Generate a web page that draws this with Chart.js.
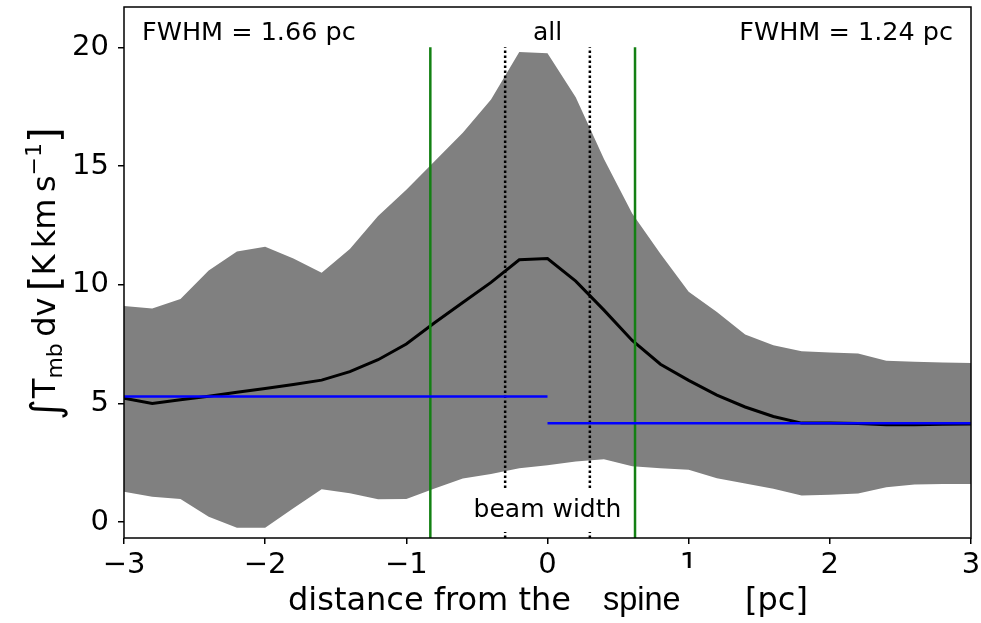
<!DOCTYPE html>
<html>
<head>
<meta charset="utf-8">
<title>Integrated intensity profile across the spine</title>
<script src="https://cdn.jsdelivr.net/npm/chart.js@4.4.1/dist/chart.umd.min.js"></script>
<style>
  html, body { margin: 0; padding: 0; background: #ffffff; }
  #wrap { width: 981px; height: 623px; position: relative; }
</style>
</head>
<body>
<div id="wrap"><canvas id="profile" width="981" height="623"></canvas></div>
<script>
// Radial profile sampled every 0.2 pc on either side of the spine
const distance = [-3.0, -2.8, -2.6, -2.4, -2.2, -2.0, -1.8, -1.6, -1.4, -1.2, -1.0,
                  -0.8, -0.6, -0.4, -0.2, 0.0, 0.2, 0.4, 0.6, 0.8, 1.0,
                  1.2, 1.4, 1.6, 1.8, 2.0, 2.2, 2.4, 2.6, 2.8, 3.0];
const meanIntensity = [5.22, 5.00, 5.15, 5.30, 5.47, 5.63, 5.80, 5.98, 6.34, 6.84, 7.50,
                       8.40, 9.25, 10.10, 11.05, 11.10, 10.15, 8.93, 7.65, 6.65, 5.97,
                       5.35, 4.85, 4.45, 4.17, 4.17, 4.15, 4.10, 4.10, 4.12, 4.13];
const upperBound = [9.10, 9.00, 9.40, 10.60, 11.40, 11.60, 11.10, 10.50, 11.50, 12.90, 14.00,
                    15.20, 16.40, 17.80, 19.80, 19.75, 17.90, 15.30, 13.00, 11.30, 9.70,
                    8.85, 7.90, 7.45, 7.20, 7.15, 7.10, 6.80, 6.75, 6.72, 6.70];
const lowerBound = [1.28, 1.07, 0.97, 0.22, -0.24, -0.24, 0.58, 1.38, 1.21, 0.96, 0.97,
                    1.42, 1.84, 2.03, 2.27, 2.40, 2.55, 2.65, 2.35, 2.27, 2.20,
                    1.85, 1.63, 1.40, 1.12, 1.15, 1.20, 1.47, 1.58, 1.60, 1.60];

// Background levels on each side of the spine
const leftLevel = 5.29;
const rightLevel = 4.16;

// Half-widths (FWHM / 2) and beam half-width, in pc
const fwhmLeftEdge = -0.83;
const fwhmRightEdge = 0.62;
const beamEdges = [-0.3, 0.3];
const markerTop = 20;

// Axis limits and tick labels
const xRange = [-3, 3];
const yRange = [-0.67, 21.7];
const xTicks = [-3, -2, -1, 0, 1, 2, 3];
const yTicks = [0, 5, 10, 15, 20];

const MAIN_FONT = 'DejaVu Sans';

function toPoints(xs, ys) {
  return xs.map((x, i) => ({ x: x, y: ys[i] }));
}
function vertical(x, y0, y1) {
  return [{ x: x, y: y0 }, { x: x, y: y1 }];
}
function formatTick(v) {
  return v < 0 ? '\u2212' + Math.abs(v) : String(v);
}

// Draws a sequence of text runs (with sub/superscripts) one after another
function drawRuns(ctx, runs) {
  let u = 0;
  for (const r of runs) {
    ctx.font = r.font;
    ctx.fillText(r.text, u, r.shift || 0);
    u += ctx.measureText(r.text).width + (r.gap || 0);
  }
}

const decorations = {
  id: 'decorations',
  afterDatasetsDraw(chart) {
    const ctx = chart.ctx;
    const a = chart.chartArea;
    const xs = chart.scales.x;
    ctx.save();
    ctx.fillStyle = '#000';
    ctx.textBaseline = 'alphabetic';

    // corner annotations
    ctx.font = '25.5px "' + MAIN_FONT + '"';
    ctx.textAlign = 'left';
    ctx.fillText('FWHM = 1.66 pc', a.left + 18, a.top + 33);
    ctx.textAlign = 'right';
    ctx.fillText('FWHM = 1.24 pc', a.right - 18, a.top + 33);
    ctx.textAlign = 'center';
    ctx.font = '25px "' + MAIN_FONT + '"';
    ctx.fillText('all', xs.getPixelForValue(0), a.top + 33);

    // beam width label on a white box
    const cx = xs.getPixelForValue(0);
    ctx.fillStyle = '#ffffff';
    ctx.fillRect(cx - 80, a.bottom - 50, 160, 44);
    ctx.fillStyle = '#000';
    ctx.fillText('beam width', cx, a.bottom - 21);

    // frame around the plotting area
    ctx.strokeStyle = '#000';
    ctx.lineWidth = 1.5;
    ctx.strokeRect(a.left, a.top, a.right - a.left, a.bottom - a.top);
    ctx.restore();
  },
  afterDraw(chart) {
    const ctx = chart.ctx;
    ctx.save();
    ctx.fillStyle = '#000';
    ctx.textBaseline = 'alphabetic';
    ctx.textAlign = 'left';

    // x-axis title; the middle word sits on its own white box
    ctx.font = '32px "' + MAIN_FONT + '"';
    ctx.fillText('distance from the', 288, 610);
    ctx.fillStyle = '#ffffff';
    ctx.fillRect(590, 568, 148, 55);
    ctx.fillStyle = '#000';
    ctx.font = '32.5px "Liberation Sans"';
    ctx.fillText('spine', 603, 610);
    ctx.font = '32px "' + MAIN_FONT + '"';
    ctx.fillText('[pc]', 745, 610);

    // y-axis title, rotated
    ctx.translate(55, 420);
    ctx.rotate(-Math.PI / 2);
    const f = (s) => s + 'px "' + MAIN_FONT + '"';
    drawRuns(ctx, [
      { text: '\u222B', font: f(40), shift: 4, gap: 1 },
      { text: 'T', font: f(32) },
      { text: 'mb', font: f(22), shift: 7 },
      { text: '\u2009dv\u2009', font: f(32) },
      { text: '[', font: f(40), shift: 3 },
      { text: 'K\u2009km\u2009s', font: f(32) },
      { text: '\u22121', font: f(22), shift: -14 },
      { text: ']', font: f(40), shift: 3 }
    ]);
    ctx.restore();
  }
};

const tickFont = { family: MAIN_FONT, size: 29 };

new Chart(document.getElementById('profile').getContext('2d'), {
  type: 'line',
  data: {
    datasets: [
      { label: 'upper', data: toPoints(distance, upperBound), fill: 1,
        backgroundColor: '#808080', borderColor: 'rgba(0,0,0,0)', borderWidth: 0,
        pointRadius: 0, order: 20 },
      { label: 'lower', data: toPoints(distance, lowerBound), fill: false,
        borderColor: 'rgba(0,0,0,0)', borderWidth: 0, pointRadius: 0, order: 21 },
      { label: 'mean', data: toPoints(distance, meanIntensity), fill: false,
        borderColor: '#000000', borderWidth: 3, pointRadius: 0, order: 6 },
      { label: 'FWHM left', data: vertical(fwhmLeftEdge, yRange[0], markerTop), fill: false,
        borderColor: '#138013', borderWidth: 2.5, pointRadius: 0, order: 5 },
      { label: 'FWHM right', data: vertical(fwhmRightEdge, yRange[0], markerTop), fill: false,
        borderColor: '#138013', borderWidth: 2.5, pointRadius: 0, order: 5 },
      { label: 'beam left', data: vertical(beamEdges[0], yRange[0], markerTop), fill: false,
        borderColor: '#000000', borderWidth: 2.5, borderDash: [2.5, 2.5], borderCapStyle: 'butt',
        pointRadius: 0, order: 4 },
      { label: 'beam right', data: vertical(beamEdges[1], yRange[0], markerTop), fill: false,
        borderColor: '#000000', borderWidth: 2.5, borderDash: [2.5, 2.5], borderCapStyle: 'butt',
        pointRadius: 0, order: 4 },
      { label: 'level left', data: [{ x: xRange[0], y: leftLevel }, { x: 0, y: leftLevel }], fill: false,
        borderColor: '#0000ff', borderWidth: 2.5, pointRadius: 0, order: 2 },
      { label: 'level right', data: [{ x: 0, y: rightLevel }, { x: xRange[1], y: rightLevel }], fill: false,
        borderColor: '#0000ff', borderWidth: 2.5, pointRadius: 0, order: 2 }
    ]
  },
  options: {
    responsive: false,
    animation: false,
    devicePixelRatio: 1,
    events: [],
    layout: { padding: { top: 7, right: 10, left: 0, bottom: 0 } },
    elements: { line: { tension: 0 } },
    plugins: { legend: { display: false }, tooltip: { enabled: false } },
    scales: {
      x: {
        type: 'linear', min: xRange[0], max: xRange[1],
        afterBuildTicks: (s) => { s.ticks = xTicks.map(v => ({ value: v })); },
        afterFit: (s) => { s.height = 85; s.paddingLeft = 0; s.paddingRight = 0; },
        ticks: { font: tickFont, color: '#000', padding: 4, maxRotation: 0, autoSkip: false,
                 callback: (v) => formatTick(v) },
        grid: { display: true, drawOnChartArea: false, drawTicks: true, tickLength: 6,
                color: '#000', lineWidth: 1.5 },
        border: { display: false }
      },
      y: {
        type: 'linear', min: yRange[0], max: yRange[1],
        afterBuildTicks: (s) => { s.ticks = yTicks.map(v => ({ value: v })); },
        afterFit: (s) => { s.width = 124; s.paddingTop = 0; s.paddingBottom = 0; },
        ticks: { font: tickFont, color: '#000', padding: 9, autoSkip: false,
                 callback: (v) => formatTick(v) },
        grid: { display: true, drawOnChartArea: false, drawTicks: true, tickLength: 6,
                color: '#000', lineWidth: 1.5 },
        border: { display: false }
      }
    }
  },
  plugins: [decorations]
});
</script>
</body>
</html>
